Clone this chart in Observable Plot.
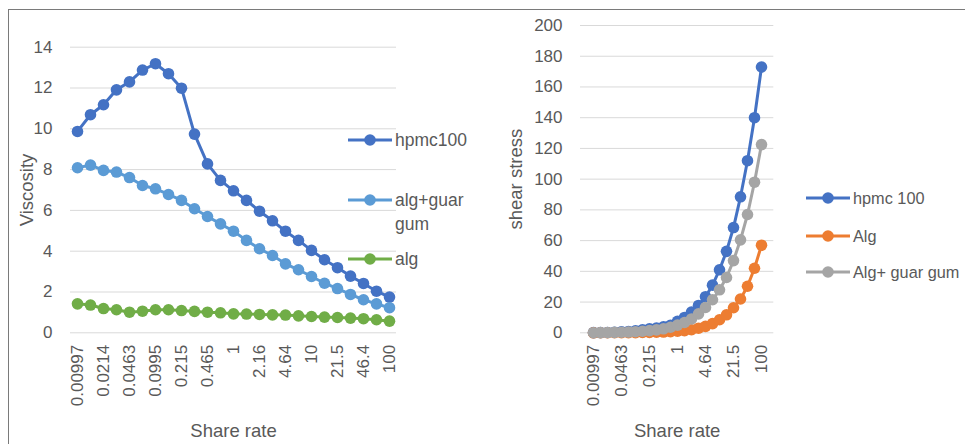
<!DOCTYPE html>
<html>
<head>
<meta charset="utf-8">
<script src="https://cdn.jsdelivr.net/npm/d3@7"></script>
<script src="https://cdn.jsdelivr.net/npm/@observablehq/plot@0.6"></script>
<style>
  html, body { margin: 0; padding: 0; background: #fff; }
  #wrap { position: relative; width: 965px; height: 444px; overflow: hidden; background: #fff;
          font-family: "Liberation Sans", Arial, sans-serif; color: #595959; }
  #frame { position: absolute; left: 8px; top: 9px; right: 0; bottom: 0;
           border-left: 1px solid #7a7a7a; border-top: 1px solid #7a7a7a; }
  .panel { position: absolute; top: 0; }
  .panel svg { overflow: visible; }
  .panel svg [aria-label="x-axis label"] text,
  .panel svg [aria-label="y-axis label"] text { font-size: 18.5px; }
  .legend { position: absolute; font-size: 17.5px; color: #595959; }
  .item { position: absolute; display: flex; align-items: flex-start; }
  .item svg { flex: none; }
  .item span { line-height: 24px; }
</style>
</head>
<body>
<div id="wrap">
  <div id="frame"></div>
  <div id="left" class="panel" style="left:0"></div>
  <div id="right" class="panel" style="left:480px"></div>
</div>
<script>
// ---- categories (shear rate) ----
const rates = ["0.00997","0.0147","0.0214","0.0316","0.0463","0.0681","0.0995","0.147","0.215","0.316","0.465","0.681","1","1.47","2.16","3.16","4.64","6.81","10","14.7","21.5","31.6","46.4","68.1","100"];
const leftTicks = ["0.00997","0.0214","0.0463","0.0995","0.215","0.465","1","2.16","4.64","10","21.5","46.4","100"];
const rightTicks = ["0.00997","0.0463","0.215","1","4.64","21.5","100"];
const leftYTicks = [0, 2, 4, 6, 8, 10, 12, 14];
const rightYTicks = [0, 20, 40, 60, 80, 100, 120, 140, 160, 180, 200];

// ---- left chart: viscosity ----
const leftSeries = ["hpmc100", "alg+guar gum", "alg"];
const leftColors = ["#4472C4", "#5B9BD5", "#70AD47"];
const hpmcVisc = [9.87, 10.69, 11.18, 11.91, 12.30, 12.88, 13.19, 12.70, 11.99, 9.74, 8.28, 7.47, 6.96, 6.49, 5.96, 5.49, 4.98, 4.53, 4.04, 3.58, 3.19, 2.78, 2.42, 2.04, 1.75];
const algGuarVisc = [8.09, 8.22, 7.96, 7.88, 7.61, 7.22, 7.06, 6.78, 6.49, 6.08, 5.70, 5.34, 4.98, 4.53, 4.12, 3.79, 3.38, 3.09, 2.76, 2.43, 2.17, 1.88, 1.62, 1.42, 1.23];
const algVisc = [1.42, 1.36, 1.19, 1.13, 1.01, 1.06, 1.13, 1.13, 1.09, 1.05, 1.01, 0.98, 0.93, 0.92, 0.90, 0.88, 0.87, 0.83, 0.80, 0.77, 0.75, 0.72, 0.69, 0.64, 0.57];

// ---- right chart: shear stress ----
const rightSeries = ["hpmc 100", "Alg", "Alg+ guar gum"];
const rightColors = ["#4472C4", "#ED7D31", "#A5A5A5"];
const hpmcStress = [0.1, 0.16, 0.24, 0.38, 0.57, 0.88, 1.3, 1.9, 2.6, 3.1, 3.9, 4.8, 7.5, 10, 13.5, 17.8, 23.5, 31, 41, 53, 68.5, 88.5, 112, 140, 173];
const algStress = [0.015, 0.02, 0.03, 0.04, 0.06, 0.09, 0.13, 0.18, 0.25, 0.35, 0.5, 0.7, 1, 1.4, 2, 3, 4.2, 6, 8.5, 11.7, 16.3, 22, 30.3, 42, 57];
const algGuarStress = [0.08, 0.12, 0.17, 0.25, 0.35, 0.49, 0.71, 1.0, 1.4, 1.9, 2.6, 3.6, 5, 6.7, 9, 12.3, 16.5, 21.5, 28, 36, 47, 60.5, 77, 98, 122.5];

function tidy(series, arrays) {
  return series.map((s, k) => rates.map((r, i) => ({rate: r, value: arrays[k][i], series: s})));
}

const plotStyle = {fontFamily: '"Liberation Sans", Arial, sans-serif', fontSize: "17px", color: "#595959", background: "transparent", overflow: "visible"};

function chart({width, marginLeft, marginRight, marginTop, yDomain, yTicks, xTicks, yLabel, yLabelOffset, series, colors, groups}) {
  const marks = [Plot.ruleY(yTicks, {stroke: "#d9d9d9", strokeWidth: 1})];
  groups.forEach(g => {
    marks.push(Plot.line(g, {x: "rate", y: "value", stroke: "series", strokeWidth: 3}));
    marks.push(Plot.dot(g, {x: "rate", y: "value", fill: "series", r: 5.8}));
  });
  marks.push(Plot.axisX({ticks: xTicks, tickRotate: -90, tickSize: 0, tickPadding: 12,
    label: "Share rate", labelAnchor: "center", labelOffset: 104, labelArrow: "none"}));
  marks.push(Plot.axisY({ticks: yTicks, tickSize: 0, tickPadding: 18,
    label: yLabel, labelAnchor: "center", labelOffset: yLabelOffset, labelArrow: "none"}));
  return Plot.plot({
    width, height: 444,
    marginLeft, marginRight, marginTop, marginBottom: 111.7,
    style: plotStyle,
    x: {type: "point", domain: rates, padding: 0.5},
    y: {domain: yDomain},
    color: {domain: series, range: colors},
    marks
  });
}

document.getElementById("left").appendChild(chart({
  width: 480, marginLeft: 70, marginRight: 84, marginTop: 46.7,
  yDomain: [0, 14], yTicks: leftYTicks, xTicks: leftTicks,
  yLabel: "Viscosity", yLabelOffset: 51,
  series: leftSeries, colors: leftColors,
  groups: tidy(leftSeries, [hpmcVisc, algGuarVisc, algVisc])
}));

document.getElementById("right").appendChild(chart({
  width: 485, marginLeft: 100, marginRight: 191.7, marginTop: 25,
  yDomain: [0, 200], yTicks: rightYTicks, xTicks: rightTicks,
  yLabel: "shear stress", yLabelOffset: 72,
  series: rightSeries, colors: rightColors,
  groups: tidy(rightSeries, [hpmcStress, algStress, algGuarStress])
}));

// ---- legends ----
function legend(series, colors, lineX, itemYs, textWidth, fontSize) {
  const wrap = document.getElementById("wrap");
  series.forEach((s, i) => {
    const item = document.createElement("div");
    item.className = "item legend";
    item.style.left = lineX + "px";
    item.style.top = (itemYs[i] - 12) + "px";
    item.style.fontSize = fontSize + "px";
    item.innerHTML = `<svg width="47" height="24"><line x1="0" x2="44" y1="12" y2="12" stroke="${colors[i]}" stroke-width="3"/><circle cx="22" cy="12" r="5.8" fill="${colors[i]}"/></svg><span style="${textWidth ? 'width:' + textWidth + 'px' : 'white-space:nowrap'}">${s}</span>`;
    wrap.appendChild(item);
  });
}
legend(leftSeries, leftColors, 348, [140, 200, 259], 76, 17.5);
legend(rightSeries, rightColors, 806, [198, 236, 272], null, 16.3);
</script>
</body>
</html>
